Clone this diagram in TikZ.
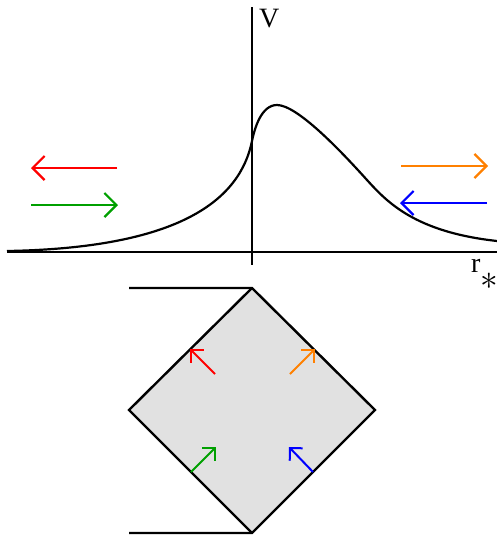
\documentclass[tikz,border=0pt]{standalone}
\usepackage{graphicx}
\usepackage{fontspec}
\setmainfont{Liberation Serif}
\usetikzlibrary{arrows.meta}
\definecolor{myred}{RGB}{255,0,0}
\definecolor{mygreen}{RGB}{0,160,0}
\definecolor{myorange}{RGB}{255,128,0}
\definecolor{myblue}{RGB}{0,0,255}
\definecolor{diamfill}{RGB}{225,225,225}
\tikzset{
  bigarr/.style={line width=2.2pt, -{Straight Barb[length=12pt,width=24pt,line width=2.2pt]}},
  smallarr/.style={line width=2pt, -{Straight Barb[length=9pt,width=18pt,line width=2pt]}},
  thick line/.style={line width=2.4pt},
  lbl/.style={inner sep=0pt, font=\fontsize{28}{30}\selectfont}
}
\begin{document}
\begin{tikzpicture}[x=1pt,y=-1pt]
\useasboundingbox (0,0) rectangle (497,536);
% axes
\coordinate (xl) at (7,252);
\coordinate (xr) at (497,252);
\coordinate (yt) at (252,7);
\coordinate (yb) at (252,265);
\draw[thick line] (xl) -- (xr);
\draw[thick line] (yt) -- (yb);
\node[lbl, anchor=north west] (V) at (259,9) {V};
\node[lbl, anchor=base west] (r) at (471,272) {r};
\node[inner sep=0pt, font=\fontsize{20}{22}\selectfont] (ast) at (489.5,281) {\scalebox{1.7}{$\ast$}};
% potential curve
\coordinate (c0) at (7,251);
\coordinate (c2) at (252,141);
\coordinate (c3) at (277,105);
\coordinate (c4) at (367,180);
\coordinate (c5) at (497,241);
\draw[line width=2.2pt, line join=round]
  (c0) .. controls (180,248) and (240,200) .. (c2)
       .. controls (254.5,129) and (261,105) .. (c3)
       .. controls (297,105) and (340,150) .. (c4)
       .. controls (387,202) and (415,232) .. (c5);
% big arrows
\coordinate (ra1) at (117,168); \coordinate (ra2) at (31,168);
\coordinate (ga1) at (31,205); \coordinate (ga2) at (118,205);
\coordinate (oa1) at (401,166); \coordinate (oa2) at (488,166);
\coordinate (ba1) at (487,203); \coordinate (ba2) at (400,203);
\draw[bigarr, myred] (ra1) -- (ra2);
\draw[bigarr, mygreen] (ga1) -- (ga2);
\draw[bigarr, myorange] (oa1) -- (oa2);
\draw[bigarr, myblue] (ba1) -- (ba2);
% diamond
\coordinate (T) at (252,288);
\coordinate (L) at (129,410);
\coordinate (R) at (375,410);
\coordinate (B) at (252,533);
\coordinate (TL) at (129,288);
\coordinate (BL) at (129,533);
\fill[diamfill] (T) -- (R) -- (B) -- (L) -- cycle;
\draw[thick line, line join=miter] (TL) -- (T) -- (R) -- (B) -- (BL);
\draw[thick line, line join=miter] (T) -- (L) -- (B);
% small arrows
\draw[smallarr, myred] (215,374) -- (190,349);
\draw[smallarr, myorange] (290,374) -- (315,349);
\draw[smallarr, mygreen] (191,472) -- (216,447);
\draw[smallarr, myblue] (313,472) -- (289,447);
\end{tikzpicture}
\end{document}
